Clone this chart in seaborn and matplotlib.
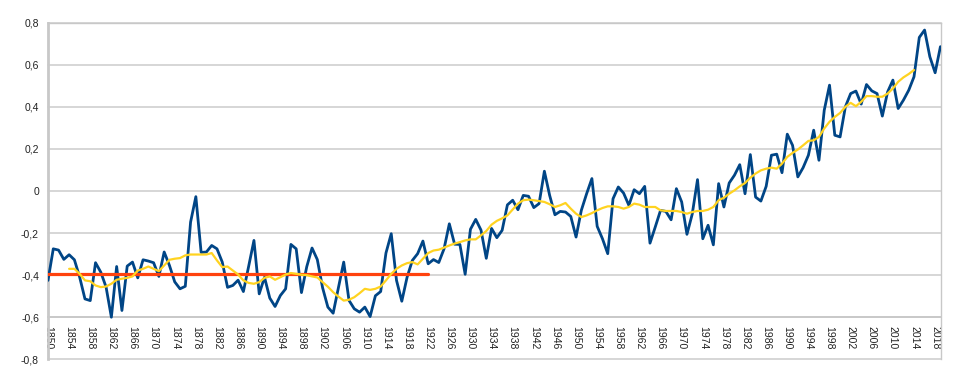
import numpy as np
import pandas as pd
import seaborn as sns
import matplotlib.pyplot as plt

# Annual values (1850-2019)
years = list(range(1850, 2020))
anomaly = [
    -0.425, -0.275, -0.281, -0.325, -0.303, -0.327, -0.410, -0.513, -0.521, -0.341,
    -0.386, -0.457, -0.600, -0.359, -0.568, -0.357, -0.338, -0.413, -0.327, -0.333,
    -0.341, -0.406, -0.290, -0.354, -0.432, -0.465, -0.453, -0.148, -0.027, -0.292,
    -0.290, -0.259, -0.275, -0.338, -0.458, -0.449, -0.424, -0.478, -0.358, -0.235,
    -0.489, -0.410, -0.509, -0.549, -0.497, -0.465, -0.254, -0.275, -0.483, -0.360,
    -0.271, -0.326, -0.460, -0.552, -0.581, -0.460, -0.338, -0.520, -0.560, -0.576,
    -0.552, -0.597, -0.498, -0.478, -0.295, -0.203, -0.425, -0.524, -0.410, -0.330,
    -0.298, -0.238, -0.346, -0.326, -0.340, -0.275, -0.156, -0.253, -0.254, -0.396,
    -0.182, -0.135, -0.186, -0.320, -0.178, -0.222, -0.187, -0.066, -0.044, -0.089,
    -0.021, -0.025, -0.079, -0.060, 0.094, -0.021, -0.113, -0.097, -0.100, -0.121,
    -0.219, -0.092, -0.013, 0.059, -0.168, -0.227, -0.298, -0.037, 0.019, -0.010,
    -0.068, 0.006, -0.013, 0.022, -0.248, -0.171, -0.092, -0.097, -0.137, 0.011,
    -0.052, -0.206, -0.110, 0.054, -0.227, -0.163, -0.256, 0.035, -0.076, 0.038,
    0.075, 0.125, -0.013, 0.173, -0.029, -0.048, 0.022, 0.170, 0.175, 0.087,
    0.270, 0.217, 0.067, 0.111, 0.170, 0.289, 0.146, 0.384, 0.503, 0.265,
    0.257, 0.400, 0.463, 0.475, 0.413, 0.506, 0.476, 0.463, 0.356, 0.471,
    0.527, 0.392, 0.432, 0.479, 0.543, 0.730, 0.765, 0.638, 0.562, 0.686,
]

# Smoothed (yellow) curve, 1854-2014
smooth_years = list(range(1854, 2015))
smooth = [
    -0.370, -0.370, -0.394, -0.425, -0.429, -0.449,
    -0.457, -0.454, -0.441, -0.422, -0.417, -0.413, -0.406, -0.378, -0.370, -0.359,
    -0.370, -0.381, -0.354, -0.327, -0.322, -0.319, -0.306, -0.302, -0.302, -0.302,
    -0.302, -0.295, -0.330, -0.362, -0.359, -0.378, -0.397, -0.425, -0.437, -0.441,
    -0.433, -0.413, -0.406, -0.422, -0.410, -0.397, -0.390, -0.394, -0.398, -0.400,
    -0.406, -0.411, -0.433, -0.455, -0.481, -0.502, -0.521, -0.517, -0.505, -0.486,
    -0.465, -0.470, -0.465, -0.454, -0.425, -0.394, -0.370, -0.354, -0.343, -0.338,
    -0.349, -0.322, -0.295, -0.283, -0.279, -0.269, -0.259, -0.250, -0.243, -0.235,
    -0.230, -0.230, -0.211, -0.190, -0.160, -0.142, -0.130, -0.116, -0.088, -0.060,
    -0.044, -0.041, -0.044, -0.048, -0.052, -0.063, -0.076, -0.068, -0.057, -0.084,
    -0.108, -0.124, -0.116, -0.105, -0.092, -0.081, -0.073, -0.073, -0.076, -0.084,
    -0.076, -0.060, -0.065, -0.076, -0.076, -0.076, -0.092, -0.095, -0.095, -0.095,
    -0.100, -0.108, -0.100, -0.095, -0.095, -0.089, -0.076, -0.044, -0.032, -0.013,
    0.003, 0.022, 0.038, 0.063, 0.083, 0.098, 0.106, 0.111, 0.106, 0.130,
    0.162, 0.181, 0.197, 0.217, 0.238, 0.241, 0.257, 0.297, 0.329, 0.352,
    0.371, 0.400, 0.419, 0.403, 0.424, 0.451, 0.451, 0.448, 0.448, 0.463,
    0.487, 0.519, 0.540, 0.556, 0.575,
]

# Reference level (red), 1850-1922
ref_years = [1850, 1922]
ref_level = [-0.395, -0.395]

y_ticks = [-0.8, -0.6, -0.4, -0.2, 0.0, 0.2, 0.4, 0.6, 0.8]
y_labels = ['-0,8', '-0,6', '-0,4', '-0,2', '0', '0,2', '0,4', '0,6', '0,8']
x_label_years = list(range(1850, 2019, 4))

df = pd.DataFrame({'year': years, 'anomaly': anomaly})
df_smooth = pd.DataFrame({'year': smooth_years, 'anomaly': smooth})
df_ref = pd.DataFrame({'year': ref_years, 'anomaly': ref_level})

sns.set_style('white')
plt.rcParams['font.family'] = ['Liberation Sans', 'DejaVu Sans']

fig, ax = plt.subplots(figsize=(9.6, 3.78), dpi=100)
fig.subplots_adjust(left=0.05, right=0.9807, bottom=0.0495, top=0.94)

sns.lineplot(data=df, x='year', y='anomaly', color='#004586', linewidth=2.0, ax=ax, zorder=3)
sns.lineplot(data=df_ref, x='year', y='anomaly', color='#ff420e', linewidth=2.3, ax=ax, zorder=4)
sns.lineplot(data=df_smooth, x='year', y='anomaly', color='#ffd320', linewidth=1.6, ax=ax, zorder=5)

ax.set_xlim(1850, 2019.2)
ax.set_ylim(-0.8, 0.8)
ax.set_xlabel('')
ax.set_ylabel('')

# grid and frame
ax.set_yticks(y_ticks)
ax.set_yticklabels(y_labels)
ax.set_axisbelow(True)
ax.yaxis.grid(True, color='#d3d3d3', linewidth=1.3)
for gl in ax.get_ygridlines():
    gl.set_clip_on(False)
ax.xaxis.grid(False)

for side in ['top', 'right']:
    ax.spines[side].set_visible(True)
    ax.spines[side].set_color('#c8c8c8')
    ax.spines[side].set_linewidth(1.0)
ax.spines['left'].set_color('#c8c8c8')
ax.spines['left'].set_linewidth(2.0)
ax.spines['bottom'].set_position(('data', -0.6))
ax.spines['bottom'].set_color('#c8c8c8')
ax.spines['bottom'].set_linewidth(1.3)

# x axis: category-like year ticks
ax.set_xticks(x_label_years)
ax.set_xticklabels([str(y) for y in x_label_years], rotation=270)
ax.set_xticks(years, minor=True)
ax.tick_params(axis='x', which='both', direction='out', length=3, width=0.8,
               color='#b3b3b3', pad=3, labelsize=7.5, labelcolor='#222222')
ax.tick_params(axis='y', direction='out', length=2.5, width=1.0,
               color='#c8c8c8', pad=4, labelsize=7.5, labelcolor='#222222')

fig.savefig('out.png', dpi=100)
